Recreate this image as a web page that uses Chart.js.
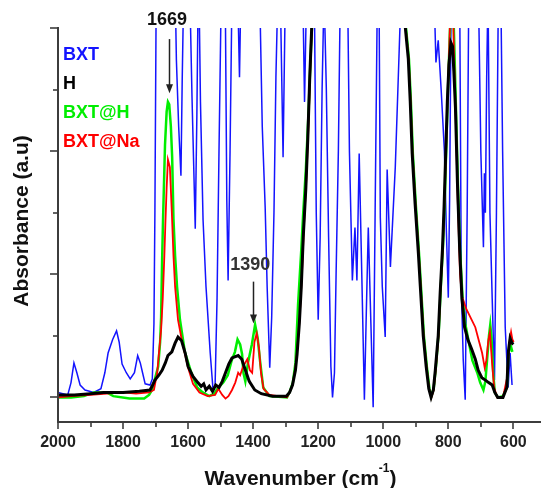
<!DOCTYPE html>
<html><head><meta charset="utf-8">
<script src="https://cdn.jsdelivr.net/npm/chart.js@4.4.0/dist/chart.umd.min.js"></script>
<style>html,body{margin:0;padding:0;background:#fff}canvas{display:block}</style>
</head><body>
<canvas id="c" width="541" height="488"></canvas>
<script>
// ---- data (wavenumber in cm-1, absorbance in a.u.) ----
const bxtWn = [2000,1985,1970,1960,1951,1942,1932,1917,1890,1868,1856,1846,1832,1820,1812,1803,1790,1778,1765,1755,1747,1740,1732,1717,1710,1705,1702,1698,1680,1645,1639,1636,1629,1622,1618,1613,1600,1594,1588,1578,1573,1569,1566,1562,1554,1545,1532,1523,1517,1511,1505,1498,1490,1485,1481,1477,1471,1465,1450,1446,1442,1437,1400,1380,1372,1363,1357,1349,1343,1336,1330,1324,1316,1308,1301,1290,1248,1242,1235,1212,1206,1200,1194,1188,1182,1175,1168,1161,1156,1150,1145,1138,1132,1110,1104,1095,1087,1081,1074,1066,1058,1052,1046,1038,1031,1025,1018,1013,1009,1003,994,988,978,963,955,945,900,845,838,831,822,812,806,800,796,791,770,765,760,754,748,742,737,708,700,692,689,686,682,678,672,665,658,652,646,639,633,625,616,610,604];
const bxtAbs = [0.04,0.03,0.02,0.12,0.28,0.2,0.1,0.06,0.04,0.07,0.2,0.36,0.47,0.54,0.45,0.27,0.2,0.15,0.2,0.34,0.28,0.2,0.11,0.1,0.15,0.6,1.52,3.3,3.6,3.5,3.2,2.74,2.2,1.8,2.6,3.4,3.4,3.2,2.44,1.37,2.3,3.3,3.2,2.4,1.44,0.9,0.36,0.05,0.1,0.8,2.0,3.3,3.5,3.0,1.6,0.95,2.0,3.3,3.5,3.1,2.6,3.4,3.5,3.3,2.2,1.54,0.9,0.24,0.65,1.5,2.6,3.3,3.2,1.95,3.3,3.5,3.4,2.4,3.4,3.3,1.5,0.63,1.3,2.5,3.3,2.5,1.3,0.25,0.0,0.2,1.0,2.0,3.3,3.4,2.0,0.95,1.38,0.95,1.98,1.0,-0.02,0.7,1.38,0.6,-0.08,1.5,3.3,3.3,1.46,0.9,0.49,1.85,1.06,1.87,2.5,3.3,3.5,3.4,2.72,2.9,2.5,2.0,1.36,0.81,1.6,3.3,3.5,3.3,0.9,0.3,-0.02,1.5,3.3,3.4,2.0,1.22,1.82,1.5,2.6,3.3,1.5,0.8,0.14,1.5,3.3,3.4,2.0,0.57,0.08,0.36,0.1];

const hWn = [2000,1950,1900,1860,1800,1750,1717,1711,1702,1690,1680,1670,1662,1650,1640,1631,1620,1609,1600,1585,1570,1560,1552,1545,1535,1525,1515,1505,1495,1485,1475,1465,1446,1435,1425,1412,1395,1375,1340,1298,1288,1279,1270,1265,1258,1252,1246,1238,1232,1226,1220,1210,1150,1000,945,932,923,917,911,902,892,886,877,868,860,853,846,840,831,825,818,813,808,803,798,792,787,783,778,772,765,758,750,740,728,717,708,697,686,676,665,657,648,632,620,615,610,604,600];
const hAbs = [0.02,0.02,0.03,0.04,0.04,0.05,0.06,0.09,0.14,0.18,0.22,0.28,0.34,0.37,0.44,0.49,0.46,0.36,0.25,0.17,0.12,0.09,0.11,0.06,0.09,0.05,0.1,0.08,0.13,0.2,0.27,0.32,0.34,0.31,0.23,0.13,0.06,0.03,0.01,0.01,0.04,0.1,0.22,0.35,0.6,0.9,1.3,1.7,2.1,2.6,3.0,3.4,3.7,3.7,3.3,3.0,2.75,2.4,1.98,1.57,1.17,0.9,0.5,0.25,0.07,0.0,0.06,0.22,0.5,0.85,1.2,1.55,1.98,2.4,2.7,2.88,2.85,2.65,2.35,1.75,1.2,0.8,0.57,0.47,0.39,0.31,0.22,0.16,0.14,0.12,0.1,0.04,0.0,0.0,0.08,0.38,0.48,0.44,0.43];

const bxtHWn = [2000,1960,1920,1890,1850,1830,1780,1735,1720,1711,1702,1692,1686,1683,1680,1677,1671,1666,1662,1658,1653,1649,1645,1640,1634,1625,1610,1590,1572,1555,1535,1520,1510,1492,1478,1466,1456,1448,1440,1434,1430,1424,1416,1404,1394,1386,1379,1369,1350,1296,1287,1278,1270,1262,1252,1246,1238,1230,1222,1214,1150,1000,942,930,921,915,909,900,890,884,875,866,858,852,845,838,829,823,816,811,806,801,796,792,785,781,776,770,763,756,748,740,726,711,702,692,686,680,675,671,667,662,657,648,632,620,615,609,603];
const bxtHAbs = [0.0,0.0,0.01,0.04,0.04,0.01,-0.01,-0.01,0.02,0.06,0.15,0.25,0.45,0.65,1.1,1.45,2.05,2.32,2.4,2.38,2.2,1.95,1.45,1.15,0.9,0.63,0.37,0.2,0.08,0.04,0.01,0.03,0.07,0.12,0.18,0.3,0.37,0.47,0.43,0.35,0.2,0.13,0.28,0.43,0.59,0.48,0.3,0.08,0.01,0.0,0.05,0.12,0.28,0.75,1.2,1.5,1.85,2.3,2.85,3.3,3.7,3.7,3.3,3.0,2.75,2.4,1.98,1.57,1.17,0.9,0.5,0.25,0.07,0.01,0.07,0.25,0.55,0.9,1.25,1.6,2.05,2.5,2.9,3.2,3.2,2.8,2.3,1.7,1.15,0.8,0.6,0.49,0.3,0.2,0.12,0.06,0.13,0.33,0.5,0.59,0.48,0.2,0.04,0.0,0.01,0.08,0.35,0.43,0.37];

const bxtNaWn = [2000,1960,1900,1850,1800,1760,1720,1705,1695,1690,1683,1678,1673,1670,1666,1662,1656,1650,1645,1640,1631,1619,1600,1585,1565,1540,1517,1507,1495,1485,1476,1465,1455,1446,1440,1431,1418,1410,1403,1396,1389,1382,1376,1368,1350,1296,1288,1279,1270,1264,1257,1250,1244,1236,1230,1224,1218,1208,1150,1000,944,931,922,916,910,901,891,885,876,867,859,852,845,839,830,824,817,812,807,802,797,793,786,782,777,771,764,758,745,730,717,705,696,688,683,677,672,666,659,650,632,620,612,607,603,599];
const bxtNaAbs = [0.0,0.01,0.02,0.03,0.04,0.03,0.04,0.06,0.2,0.35,0.55,0.8,1.15,1.4,1.7,1.93,1.87,1.5,1.15,0.9,0.63,0.46,0.24,0.11,0.04,0.01,0.02,0.07,0.02,-0.01,0.01,0.06,0.12,0.2,0.18,0.25,0.31,0.22,0.2,0.45,0.52,0.4,0.2,0.07,0.02,0.0,0.04,0.1,0.24,0.4,0.65,1.0,1.38,1.8,2.2,2.7,3.1,3.5,3.7,3.7,3.3,3.0,2.75,2.4,1.98,1.57,1.17,0.9,0.5,0.25,0.07,0.0,0.06,0.22,0.5,0.88,1.22,1.58,2.0,2.45,2.85,3.2,3.2,2.75,2.25,1.6,1.0,0.82,0.72,0.64,0.57,0.45,0.36,0.24,0.3,0.46,0.53,0.3,0.08,0.0,0.0,0.15,0.45,0.53,0.47,0.45];

const seriesNames = ['BXT', 'H', 'BXT@H', 'BXT@Na'];
const seriesColors = ['#1414ff', '#000000', '#00ee00', '#ff0000'];
const xTickLabels = [2000, 1800, 1600, 1400, 1200, 1000, 800, 600];
const xMinorTicks = [1900, 1700, 1500, 1300, 1100, 900, 700];
const yMajorTicks = [0, 1, 2, 3];
const yMinorTicks = [0.5, 1.5, 2.5];
const peakLabels = ['1669', '1390'];
const peakLabelWn = [1665, 1409];
const peakLabelAbs = [3.025, 1.035];
const peakArrowWn = [1659, 1400];
const peakArrowFrom = [2.91, 0.94];
const peakArrowTo = [2.47, 0.60];

const FONT = '"Liberation Sans", Arial, sans-serif';
const toXY = (wn, ab) => wn.map((w, i) => ({x: w, y: ab[i]}));

const decor = {
  id: 'decor',
  afterDatasetsDraw(chart) {
    const {ctx, chartArea: a, scales: {x, y}} = chart;
    ctx.save();
    ctx.strokeStyle = '#3c3c3c';
    ctx.lineWidth = 2;
    ctx.beginPath();
    ctx.moveTo(a.left, a.top - 1);
    ctx.lineTo(a.left, a.bottom);
    ctx.lineTo(a.right, a.bottom);
    ctx.stroke();
    ctx.lineWidth = 1.6;
    const seg = (x1, y1, x2, y2) => { ctx.beginPath(); ctx.moveTo(x1, y1); ctx.lineTo(x2, y2); ctx.stroke(); };
    xTickLabels.forEach(v => { const p = Math.round(x.getPixelForValue(v)); seg(p, a.bottom, p, a.bottom + 7); });
    xMinorTicks.forEach(v => { const p = Math.round(x.getPixelForValue(v)); seg(p, a.bottom, p, a.bottom + 5); });
    yMajorTicks.forEach(v => { const p = Math.round(y.getPixelForValue(v)); seg(a.left - 8, p, a.left, p); });
    yMinorTicks.forEach(v => { const p = Math.round(y.getPixelForValue(v)); seg(a.left - 5, p, a.left, p); });

    // legend texts
    ctx.font = 'bold 18px ' + FONT;
    ctx.textAlign = 'left';
    ctx.textBaseline = 'alphabetic';
    seriesNames.forEach((n, i) => {
      ctx.fillStyle = seriesColors[i];
      ctx.fillText(n, a.left + 5, a.top + 32 + i * 29);
    });

    // peak annotations
    peakLabels.forEach((t, i) => {
      ctx.fillStyle = i === 0 ? '#111' : '#333';
      ctx.textAlign = 'center';
      ctx.fillText(t, x.getPixelForValue(peakLabelWn[i]), y.getPixelForValue(peakLabelAbs[i]));
      const ax = Math.round(x.getPixelForValue(peakArrowWn[i])) + 0.5;
      const y1 = y.getPixelForValue(peakArrowFrom[i]);
      const y2 = y.getPixelForValue(peakArrowTo[i]);
      ctx.strokeStyle = '#222';
      ctx.lineWidth = 1.5;
      seg(ax, y1, ax, y2 - 8);
      ctx.fillStyle = '#222';
      ctx.beginPath();
      ctx.moveTo(ax - 3.5, y2 - 9);
      ctx.lineTo(ax + 3.5, y2 - 9);
      ctx.lineTo(ax, y2);
      ctx.closePath();
      ctx.fill();
    });

    // axis titles
    ctx.fillStyle = '#111';
    ctx.font = 'bold 21px ' + FONT;
    ctx.save();
    ctx.translate(28, (a.top + a.bottom) / 2 - 4);
    ctx.rotate(-Math.PI / 2);
    ctx.textAlign = 'center';
    ctx.fillText('Absorbance (a.u)', 0, 0);
    ctx.restore();

    const main = 'Wavenumber (cm';
    const sup = '-1';
    const close = ')';
    ctx.font = 'bold 21px ' + FONT;
    const w1 = ctx.measureText(main).width;
    const w3 = ctx.measureText(close).width;
    ctx.font = 'bold 12px ' + FONT;
    const w2 = ctx.measureText(sup).width;
    let sx = (a.left + a.right) / 2 + 1 - (w1 + w2 + w3) / 2;
    const by = 485;
    ctx.textAlign = 'left';
    ctx.font = 'bold 21px ' + FONT;
    ctx.fillText(main, sx, by);
    ctx.font = 'bold 12px ' + FONT;
    ctx.fillText(sup, sx + w1, by - 13);
    ctx.font = 'bold 21px ' + FONT;
    ctx.fillText(close, sx + w1 + w2, by);
    ctx.restore();
  }
};

const mk = (i, wn, ab, width, order) => ({
  label: seriesNames[i],
  data: toXY(wn, ab),
  borderColor: seriesColors[i],
  backgroundColor: seriesColors[i],
  borderWidth: width,
  pointRadius: 0,
  fill: false,
  tension: 0,
  order: order
});

new Chart(document.getElementById('c'), {
  type: 'line',
  data: {
    datasets: [
      mk(0, bxtWn, bxtAbs, 1.5, 4),
      mk(1, hWn, hAbs, 3, 1),
      mk(2, bxtHWn, bxtHAbs, 2.5, 3),
      mk(3, bxtNaWn, bxtNaAbs, 1.8, 2)
    ]
  },
  options: {
    responsive: false,
    devicePixelRatio: 1,
    animation: false,
    layout: {padding: {top: 28, left: 0, right: 0, bottom: 0}},
    plugins: {legend: {display: false}, tooltip: {enabled: false}, title: {display: false}},
    scales: {
      x: {
        type: 'linear', reverse: true, min: 515, max: 2000,
        afterBuildTicks: s => { s.ticks = xTickLabels.map(v => ({value: v})); },
        afterFit: s => { s.height = 66; },
        grid: {display: false, drawTicks: false},
        border: {display: false},
        ticks: {font: {family: FONT, size: 16, weight: 'bold'}, color: '#222', padding: 11, maxRotation: 0, autoSkip: false, callback: v => String(v)}
      },
      y: {
        min: -0.2, max: 3.0,
        afterFit: s => { s.width = 58; },
        grid: {display: false, drawTicks: false},
        border: {display: false},
        ticks: {display: false}
      }
    }
  },
  plugins: [decor]
});
</script>
</body></html>
